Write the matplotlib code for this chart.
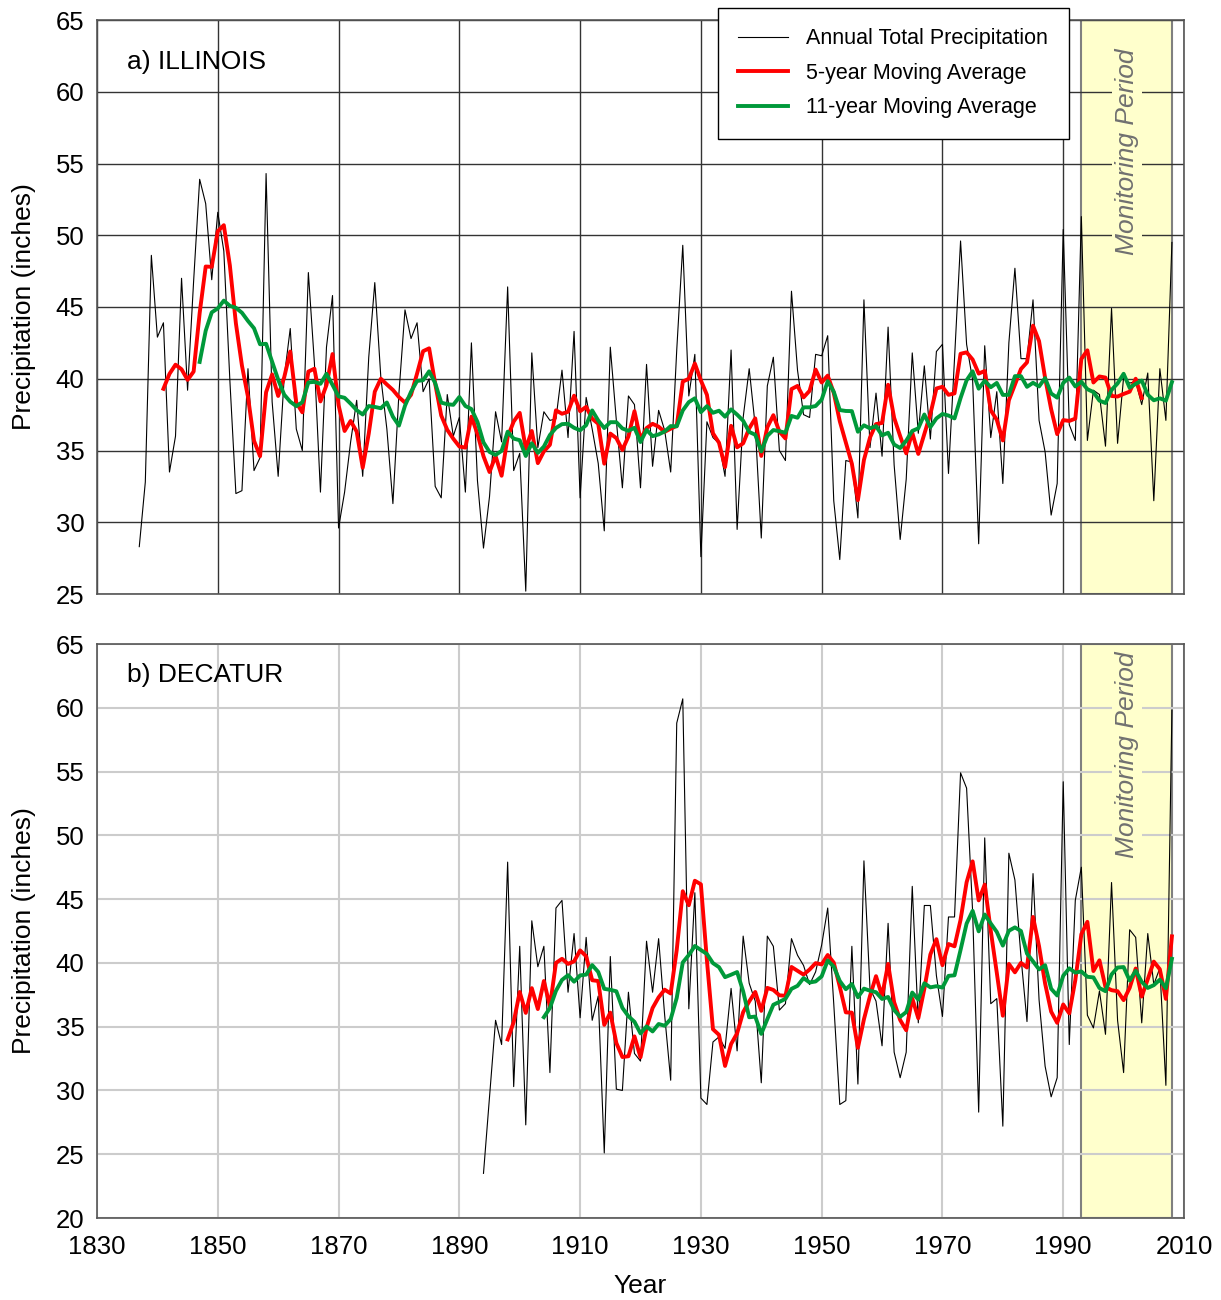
import numpy as np
import pandas as pd
import matplotlib
matplotlib.use("Agg")
import matplotlib.pyplot as plt

plt.rcParams['font.family'] = ['Liberation Sans', 'DejaVu Sans']

# Illinois statewide annual precipitation (inches), 1837-2008
il_years = list(range(1837, 2009))
il_precip = [
    28.3, 32.8, 48.6, 42.9, 43.9, 33.5, 36.0, 47.0, 39.2, 46.8,   # 1837-1846
    53.9, 52.2, 46.9, 51.6, 48.9, 39.9, 32.0, 32.2, 40.7, 33.6,   # 1847-1856
    34.5, 54.3, 38.4, 33.2, 40.1, 43.5, 36.5, 35.0, 47.4, 41.1,   # 1857-1866
    32.1, 42.2, 45.8, 29.6, 32.1, 35.6, 38.5, 33.2, 41.5, 46.7,   # 1867-1876
    40.1, 36.5, 31.3, 39.0, 44.8, 42.8, 43.9, 39.1, 40.0, 32.5,   # 1877-1886
    31.7, 38.9, 36.0, 37.3, 32.1, 42.5, 32.9, 28.2, 31.8, 37.7,   # 1887-1896
    35.6, 46.4, 33.6, 34.8, 25.2, 41.8, 35.2, 37.7, 37.1, 37.2,   # 1897-1906
    40.6, 35.9, 43.3, 31.7, 38.7, 36.5, 34.1, 29.4, 42.2, 37.1,   # 1907-1916
    32.4, 38.8, 38.2, 32.4, 41.0, 33.9, 37.8, 36.4, 33.5, 42.0,   # 1917-1926
    49.3, 38.8, 41.7, 27.6, 37.0, 35.9, 35.5, 33.2, 42.0, 29.5,   # 1927-1936
    37.3, 40.7, 36.7, 28.9, 39.5, 41.5, 35.0, 34.3, 46.1, 40.6,   # 1937-1946
    37.5, 37.3, 41.7, 41.6, 43.0, 31.5, 27.4, 34.3, 34.2, 30.3,   # 1947-1956
    45.5, 35.2, 39.0, 34.6, 43.6, 34.0, 28.8, 33.0, 41.8, 36.2,   # 1957-1966
    40.9, 35.8, 41.9, 42.4, 33.4, 41.4, 49.6, 42.4, 39.9, 28.5,   # 1967-1976
    42.3, 35.9, 39.1, 32.7, 42.5, 47.7, 41.4, 41.4, 45.5, 37.1,   # 1977-1986
    34.9, 30.5, 32.7, 50.4, 36.8, 35.7, 51.3, 35.7, 39.2, 38.9,   # 1987-1996
    35.3, 44.9, 35.5, 40.1, 39.7, 39.8, 38.2, 40.4, 31.5, 40.7,   # 1997-2006
    37.1, 49.5,                                                   # 2007-2008
]

# Decatur annual precipitation (inches), 1894-2008
dec_years = list(range(1894, 2009))
dec_precip = [
    23.5, 29.5, 35.5, 33.6, 47.9, 30.3, 41.3, 27.3, 43.3, 39.7,   # 1894-1903
    41.3, 31.4, 44.3, 44.9, 37.7, 42.3, 35.7, 42.0, 35.5, 37.4,   # 1904-1913
    25.1, 40.5, 30.1, 30.0, 37.7, 32.9, 32.3, 41.7, 37.7, 41.9,   # 1914-1923
    35.9, 30.8, 58.8, 60.7, 36.4, 45.5, 29.4, 28.9, 33.8, 34.2,   # 1924-1933
    33.3, 38.0, 33.1, 42.1, 38.4, 37.0, 30.6, 42.1, 41.3, 36.3,   # 1934-1943
    36.8, 41.9, 40.6, 39.8, 38.3, 39.3, 41.4, 44.3, 36.8, 28.9,   # 1944-1953
    29.2, 41.3, 30.5, 48.0, 38.0, 37.0, 33.5, 43.1, 33.0, 31.0,   # 1954-1963
    33.0, 46.0, 35.3, 44.5, 44.5, 39.0, 35.8, 43.6, 43.6, 54.9,   # 1964-1973
    53.7, 44.0, 28.3, 49.8, 36.8, 37.2, 27.2, 48.6, 46.5, 40.5,   # 1974-1983
    35.4, 47.0, 37.1, 31.9, 29.5, 31.0, 54.2, 33.6, 44.9, 47.5,   # 1984-1993
    35.9, 34.9, 37.8, 34.4, 46.3, 35.5, 31.4, 42.6, 42.0, 35.3,   # 1994-2003
    42.3, 38.3, 39.6, 30.4, 59.8,                                 # 2004-2008
]

monitor_start, monitor_end = 1993, 2008
il_ma5_last = 2003  # the Illinois 5-year curve stops in 2003 in the original

il = pd.Series(il_precip, index=il_years)
dec = pd.Series(dec_precip, index=dec_years)

red = '#FF0000'
green = '#00993A'
band = '#FFFFCC'

fig = plt.figure(figsize=(12.21, 13.0), dpi=100)
W, H = 1221.0, 1300.0
ax1 = fig.add_axes([97 / W, 1 - 594 / H, 1087 / W, 574 / H])
ax2 = fig.add_axes([97 / W, 1 - 1218 / H, 1087 / W, 574 / H])


def draw_panel(ax, s, ma5_end, ylo, gridcol, gridlw, label, label_y, mon_y):
    ax.axvspan(monitor_start, monitor_end, facecolor=band, edgecolor='#808080',
               lw=1.5, zorder=0.2)
    ma5 = s.rolling(5).mean()
    ma11 = s.rolling(11).mean()
    if ma5_end is not None:
        ma5 = ma5[ma5.index <= ma5_end]
    ax.plot(s.index, s.values, color='black', lw=0.8, zorder=3,
            label='Annual Total Precipitation')
    ax.plot(ma5.index, ma5.values, color=red, lw=2.8, zorder=4,
            label='5-year Moving Average')
    ax.plot(ma11.index, ma11.values, color=green, lw=2.8, zorder=5,
            label='11-year Moving Average')

    ax.set_xlim(1830, 2010)
    ax.set_ylim(ylo, 65)
    ax.set_xticks(np.arange(1830, 2011, 20))
    ax.set_yticks(np.arange(ylo, 66, 5))
    ax.set_axisbelow(True)
    ax.grid(True, color=gridcol, lw=gridlw)
    ax.tick_params(length=0, labelsize=18.5)
    ax.tick_params(axis='y', pad=9)
    ax.tick_params(axis='x', pad=12)
    for sp in ax.spines.values():
        sp.set_color('#555555')
        sp.set_linewidth(1.2)
    ax.set_ylabel('Precipitation (inches)', fontsize=19, labelpad=14)
    ax.text(1835, label_y, label, fontsize=19, va='center', ha='left')
    ax.text((monitor_start + monitor_end) / 2, mon_y, 'Monitoring Period',
            rotation=90, ha='center', va='top', fontsize=19, style='italic',
            color='#707070', zorder=1,
            bbox=dict(facecolor=band, edgecolor='none', pad=2))


draw_panel(ax1, il, il_ma5_last, 25, '#333333', 1.0, 'a) ILLINOIS', 62.1, 63.0)
ax1.tick_params(labelbottom=False)

draw_panel(ax2, dec, None, 20, '#CCCCCC', 1.5, 'b) DECATUR', 62.6, 64.4)
ax2.set_xlabel('Year', fontsize=19, labelpad=11)

handles, labels = ax1.get_legend_handles_labels()
leg = fig.legend(handles, labels, loc='upper left',
                 bbox_to_anchor=(718 / W, 1 - 8 / H), borderaxespad=0,
                 fontsize=15.5, frameon=True, fancybox=False, framealpha=1,
                 edgecolor='black', handlelength=2.3, handletextpad=0.85,
                 labelspacing=0.62, borderpad=0.95)
leg.get_frame().set_linewidth(1.0)
leg.set_zorder(10)

fig.savefig('out.png', dpi=100)
